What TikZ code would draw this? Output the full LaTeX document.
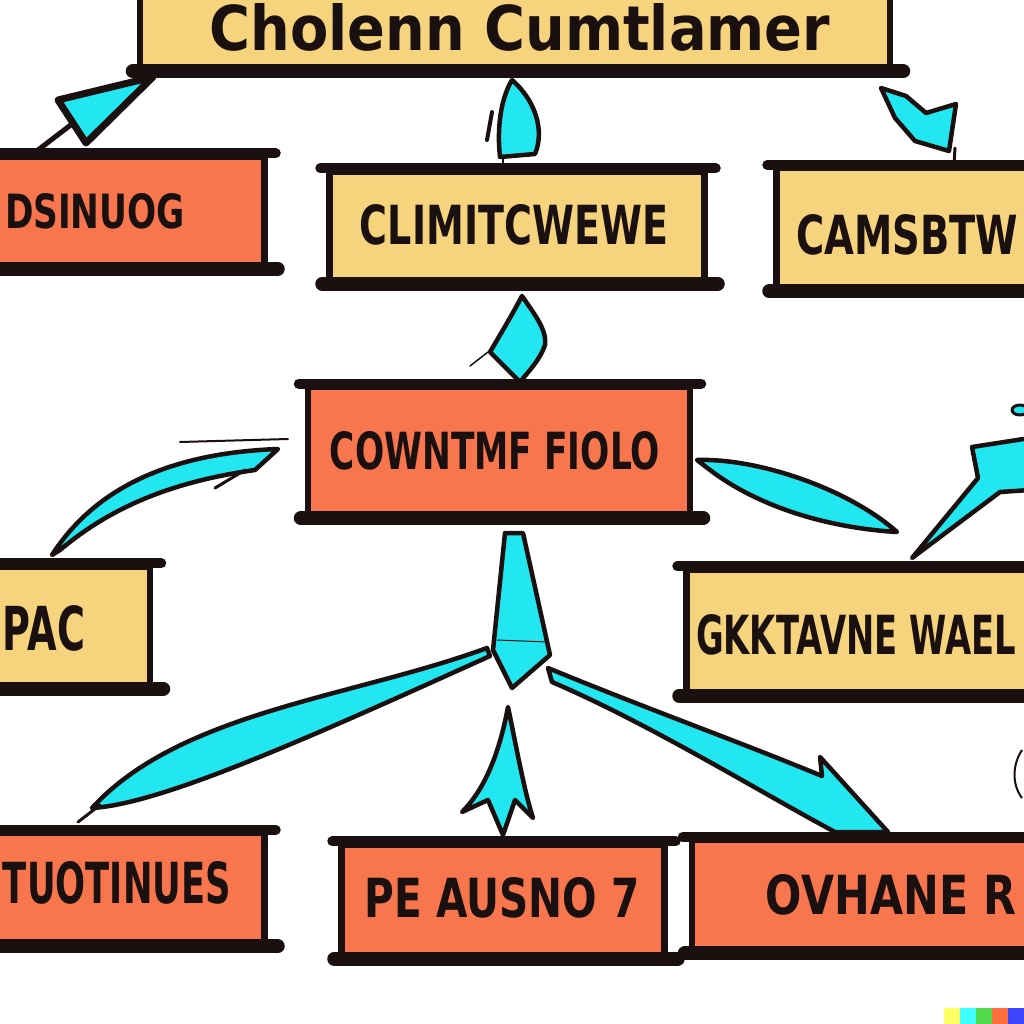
\documentclass[tikz,border=0pt]{standalone}
\usepackage{fontspec}
\setmainfont{DejaVu Sans}
\definecolor{boxyellow}{HTML}{F6D47D}
\definecolor{boxorange}{HTML}{F8764E}
\definecolor{arrowcyan}{HTML}{22E6F0}
\definecolor{inkdark}{HTML}{1A1010}
\definecolor{wmyellow}{HTML}{FFFF66}
\definecolor{wmcyan}{HTML}{42FFFF}
\definecolor{wmgreen}{HTML}{51DA4C}
\definecolor{wmorange}{HTML}{FF6E3C}
\definecolor{wmblue}{HTML}{3C46FF}
\newcommand{\fittext}[3]{\resizebox{#1pt}{#2pt}{\bfseries #3}}
\begin{document}
\begin{tikzpicture}[x=1pt,y=-1pt,
  boxbase/.style={draw=inkdark, line width=6.5pt, inner sep=0pt, line join=round},
  ybox/.style={boxbase, fill=boxyellow},
  obox/.style={boxbase, fill=boxorange},
  boxtext/.style={inner sep=0pt, text=inkdark},
  topedge/.style={draw=inkdark, line width=10pt, line cap=round},
  botedge/.style={draw=inkdark, line width=14pt, line cap=round},
  brush/.style={fill=arrowcyan, draw=inkdark, line width=4.5pt, line join=round},
  inkstroke/.style={draw=inkdark, line width=3pt, line cap=round}]
\clip (0,0) rectangle (1024,1024);
\fill[white] (0,0) rectangle (1024,1024);

% ---------- brush arrows ----------
% top-left
\draw[inkstroke, line width=5pt] (72,124) -- (38,150);
\draw[brush, line width=7pt] (58,100) -- (153,77) -- (86,143) -- cycle;
% top centre
\draw[inkdark, line width=1.5pt] (503,150) -- (503,200);
\draw[brush] (512,80) .. controls (500,100) and (497,130) .. (500,157) -- (535,154) .. controls (545,130) and (535,100) .. (512,80) -- cycle;
\draw[inkstroke, line width=4pt] (492,112) -- (487,140);
% top right
\draw[brush] (881,88) -- (906,96) -- (926,113) -- (956,104) -- (949,151) -- (915,141) -- (895,118) -- cycle;
\draw[inkstroke] (955,148) -- (954,165);
% diamond between middle boxes
\draw[brush] (522,296) .. controls (535,315) and (547,330) .. (545,345) .. controls (540,360) and (528,372) .. (520,382) -- (490,352) .. controls (500,335) and (512,315) .. (522,296) -- cycle;
\draw[inkstroke, line width=1.5pt] (488,352) -- (470,366);
% left curved arrow
\draw[brush] (52,555) .. controls (95,488) and (170,453) .. (278,449) -- (255,470) .. controls (170,482) and (110,508) .. (60,550) -- cycle;
\draw[inkstroke, line width=2pt] (180,442) -- (288,439);
\draw[inkstroke, line width=3pt] (215,488) -- (245,470);
% right leaf arrow
\draw[brush] (697,460) .. controls (760,458) and (850,490) .. (897,532) .. controls (830,528) and (760,508) .. (710,470) -- cycle;
% right lightning arrow
\draw[brush] (912,558) -- (978,478) -- (972,447) -- (1030,438) -- (1030,490) -- (1000,492) -- cycle;
\draw[brush, line width=3pt] (1020,410) ellipse (8 and 5);
% centre kite
\draw[brush] (505,533) -- (523,533) -- (550,655) -- (512,688) -- (493,650) -- cycle;
\draw[inkdark, line width=1pt] (497,640) -- (548,642);
% long left branch
\draw[brush] (487,648) .. controls (350,698) and (180,712) .. (92,808) .. controls (160,804) and (300,742) .. (490,656) -- cycle;
\draw[inkstroke] (100,805) -- (78,822);
% long right branch
\draw[brush] (548,668) .. controls (650,710) and (740,742) .. (822,776) -- (820,757) -- (888,832) -- (835,832) .. controls (760,792) and (650,724) .. (552,682) -- cycle;
% bottom middle upward arrow
\draw[brush] (508,707) .. controls (498,760) and (482,792) .. (462,812) -- (488,800) -- (503,835) -- (515,800) -- (533,818) .. controls (524,790) and (517,750) .. (508,707) -- cycle;
% small mark at right edge
\draw[inkdark, line width=2pt] (1022,750) .. controls (1012,765) and (1012,785) .. (1022,798);

% ---------- boxes ----------
\node[ybox, minimum width=750pt, minimum height=76pt] (top) at (515,32) {};
\node[obox, minimum width=275pt, minimum height=111pt] (b1) at (127,212) {};
\node[ybox, minimum width=375pt, minimum height=111pt] (b2) at (517,227) {};
\node[ybox, minimum width=253pt, minimum height=122pt] (b3) at (903,229) {};
\node[obox, minimum width=382pt, minimum height=130pt] (c) at (499,452) {};
\node[ybox, minimum width=160pt, minimum height=121pt] (l) at (70,627) {};
\node[ybox, minimum width=343pt, minimum height=125pt] (r) at (858,632) {};
\node[obox, minimum width=275pt, minimum height=112pt] (bl) at (127,889) {};
\node[obox, minimum width=323pt, minimum height=113pt] (bm) at (503,901) {};
\node[obox, minimum width=338pt, minimum height=112pt] (br) at (861,896) {};

\foreach \n in {top,b1,b2,b3,c,l,r,bl,bm,br}{
  \draw[topedge] ([xshift=-6pt]\n.north west) -- ([xshift=8pt]\n.north east);
  \draw[botedge] ([xshift=-4pt,yshift=2pt]\n.south west) -- ([xshift=10pt,yshift=2pt]\n.south east);
}

% ---------- texts ----------
\node[boxtext] (t0) at (520,27) {\fittext{620}{47}{Cholenn Cumtlamer}};
\node[boxtext] (t1) at (95,211) {\fittext{180}{35}{DSINUOG}};
\node[boxtext] (t2) at (514,225) {\fittext{308}{40}{CLIMITCWEWE}};
\node[boxtext] (t3) at (907,235) {\fittext{222}{40}{CAMSBTW}};
\node[boxtext] (t4) at (495,451) {\fittext{330}{38}{COWNTMF FIOLO}};
\node[boxtext] (t5) at (44,628) {\fittext{82}{45}{PAC}};
\node[boxtext] (t6) at (856,635) {\fittext{320}{40}{GKKTAVNE WAEL}};
\node[boxtext] (t7) at (117,883) {\fittext{228}{42}{TUOTINUES}};
\node[boxtext] (t8) at (502,898) {\fittext{275}{40}{PE AUSNO 7}};
\node[boxtext] (t9) at (891,895) {\fittext{250}{40}{OVHANE R}};

% ---------- colour strip ----------
\fill[wmyellow] (944,1008) rectangle (960,1024);
\fill[wmcyan] (960,1008) rectangle (976,1024);
\fill[wmgreen] (976,1008) rectangle (992,1024);
\fill[wmorange] (992,1008) rectangle (1008,1024);
\fill[wmblue] (1008,1008) rectangle (1024,1024);
\end{tikzpicture}
\end{document}
